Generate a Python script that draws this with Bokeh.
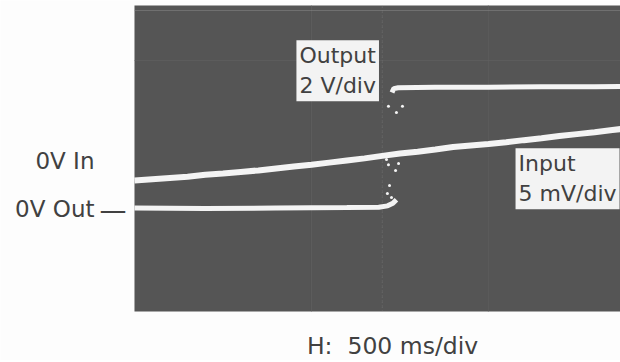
from bokeh.plotting import figure
from bokeh.models import Range1d, Label, BoxAnnotation
from bokeh.embed import file_html
from bokeh.resources import INLINE

# ---- data (time in s, H: 500 ms/div) ----
# Input trace, mV (5 mV/div), 0 mV = "0V In"
in_t = [0.00, 0.10, 0.20, 0.30, 0.40, 0.50, 0.60, 0.70, 0.80, 0.90, 1.00,
        1.10, 1.20, 1.30, 1.40, 1.50, 1.60, 1.70, 1.80, 1.90, 2.00, 2.10,
        2.20, 2.30, 2.40, 2.50, 2.60, 2.70, 2.75]
in_mv = [-1.13, -1.06, -0.99, -0.92, -0.81, -0.74, -0.65, -0.56, -0.45, -0.34, -0.24,
         -0.12, 0.00, 0.12, 0.26, 0.40, 0.50, 0.62, 0.76, 0.85, 0.93, 1.03,
         1.15, 1.26, 1.38, 1.49, 1.60, 1.72, 1.78]

# Output trace, V (2 V/div), 0 V = "0V Out"
out_low_t = [0.00, 0.40, 0.80, 1.20, 1.38, 1.43, 1.46, 1.48]
out_low_v = [0.01, 0.00, 0.01, 0.02, 0.03, 0.06, 0.12, 0.20]
out_high_t = [1.455, 1.465, 1.49, 1.70, 2.00, 2.30, 2.60, 2.75]
out_high_v = [2.62, 2.71, 2.73, 2.74, 2.74, 2.75, 2.75, 2.76]

# stray trace points near the switching edge (s, V)
dot_t = [1.435, 1.514, 1.480, 1.424, 1.435, 1.492, 1.475, 1.441, 1.429, 1.452]
dot_v = [2.31, 2.31, 2.17, 1.11, 0.99, 1.02, 0.86, 0.52, 0.34, 0.25]

# screen extent (s, V) and faint graticule marks
screen_t0 = 0.0
screen_vmin, screen_vmax = -2.33, 4.59
trigger_t = 1.40
grid_t = [1.0, 2.0]
grid_v = [3.345]
top_v = 4.475

FONT = "DejaVu Sans"
TXT = "#414141"
BG = "#555555"
TRACE = "#f4f4f4"

p = figure(width=620, height=360, output_backend="svg", toolbar_location=None,
           x_range=Range1d(-0.757, 2.746), y_range=Range1d(-3.435, 4.701),
           x_axis_location=None, y_axis_location=None,
           min_border_left=0, min_border_right=0, min_border_top=0,
           min_border_bottom=0)
p.extra_y_ranges = {"in": Range1d(-11.30, 9.04)}
p.background_fill_color = "#fdfdfd"
p.border_fill_color = "#fdfdfd"
p.outline_line_color = None
p.xgrid.visible = False
p.ygrid.visible = False

# oscilloscope screen
p.add_layout(BoxAnnotation(left=screen_t0, bottom=screen_vmin, top=screen_vmax,
                           fill_color=BG, fill_alpha=1.0, line_color=None,
                           level="underlay"))
for gt in grid_t:
    p.add_layout(BoxAnnotation(left=gt, right=gt, bottom=screen_vmin, top=screen_vmax,
                               fill_alpha=0, line_color="#626262", line_width=1,
                               level="underlay"))
for gv in grid_v:
    p.add_layout(BoxAnnotation(left=screen_t0, bottom=gv, top=gv,
                               fill_alpha=0, line_color="#626262", line_width=1,
                               level="underlay"))
p.add_layout(BoxAnnotation(left=screen_t0, bottom=top_v, top=top_v,
                           fill_alpha=0, line_color="#8a8a8a", line_width=1,
                           level="underlay"))
p.add_layout(BoxAnnotation(left=trigger_t, right=trigger_t, bottom=screen_vmin,
                           top=screen_vmax, fill_alpha=0, line_color="#a0a0a0",
                           line_width=1, line_dash="1 4", level="underlay"))

p.line(in_t, in_mv, y_range_name="in", line_color=TRACE, line_width=6)
p.line(out_low_t, out_low_v, line_color=TRACE, line_width=5)
p.line(out_high_t, out_high_v, line_color=TRACE, line_width=5)
p.scatter(dot_t, dot_v, size=3, color=TRACE, line_color=None)

# boxed trace labels
p.add_layout(Label(x=0.915, y=3.80, text="Output\n2 V/div", text_font=FONT,
                   text_font_size="22px", text_color=TXT, text_align="left",
                   text_baseline="top", text_line_height=1.2,
                   background_fill_color="#f3f3f3", padding=3))
p.add_layout(Label(x=2.153, y=1.36, text="Input\n5 mV/div", text_font=FONT,
                   text_font_size="22px", text_color=TXT, text_align="left",
                   text_baseline="top", text_line_height=1.2,
                   background_fill_color="#f3f3f3", padding=3))

# zero reference labels (left of the screen)
p.add_layout(Label(x=-0.226, y=0, y_range_name="in", text="0V In", text_font=FONT,
                   text_font_size="23px", text_color=TXT, text_align="right",
                   text_baseline="middle"))
p.add_layout(Label(x=-0.226, y=0, text="0V Out", text_font=FONT,
                   text_font_size="23px", text_color=TXT, text_align="right",
                   text_baseline="middle"))
p.add_layout(Label(x=-0.198, y=-0.02, text="\u2014", text_font=FONT,
                   text_font_size="27px", text_color=TXT, text_align="left",
                   text_baseline="middle"))

# time base
p.add_layout(Label(x=1.458, y=-3.096, text="H:\u00a0 500 ms/div", text_font=FONT,
                   text_font_size="23.5px", text_color=TXT, text_align="center",
                   text_baseline="middle"))

open("out.html", "w").write(file_html(p, INLINE))
